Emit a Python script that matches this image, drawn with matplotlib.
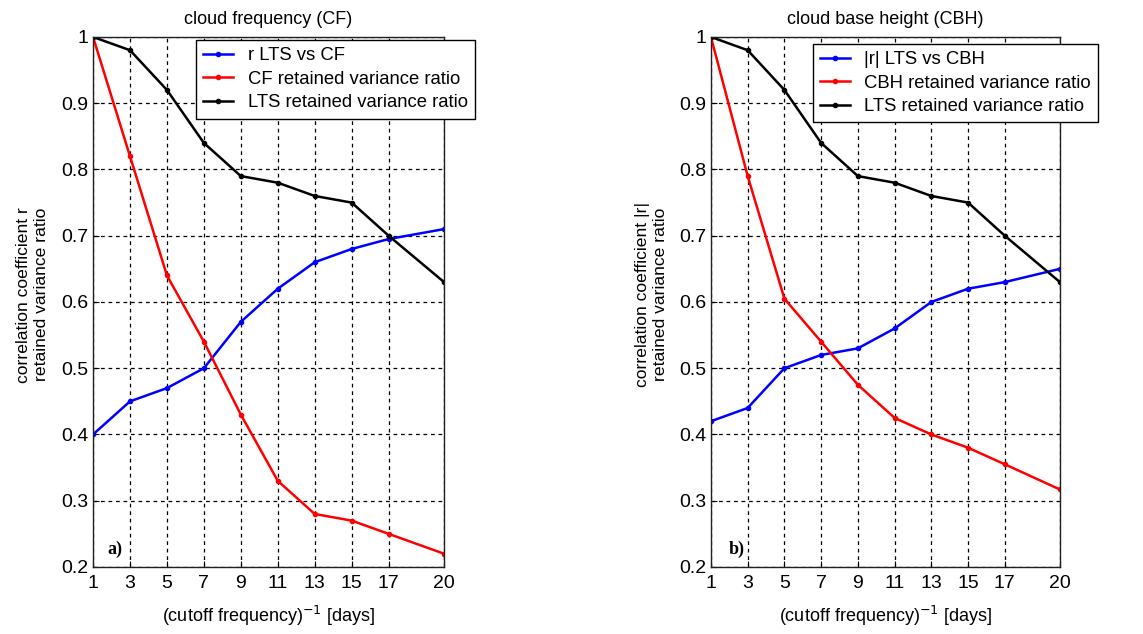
import matplotlib
matplotlib.use("Agg")
import matplotlib.pyplot as plt

plt.rcParams['font.family'] = ['Liberation Sans', 'DejaVu Sans']

days = [1, 3, 5, 7, 9, 11, 13, 15, 17, 20]
xticks = [1, 3, 5, 7, 9, 11, 13, 15, 17, 20]
yticks = [0.2, 0.3, 0.4, 0.5, 0.6, 0.7, 0.8, 0.9, 1.0]
ytick_labels = ['0.2', '0.3', '0.4', '0.5', '0.6', '0.7', '0.8', '0.9', '1']

# panel a) cloud frequency
r_cf = [0.40, 0.45, 0.47, 0.50, 0.57, 0.62, 0.66, 0.68, 0.695, 0.71]
cf_var = [1.00, 0.82, 0.64, 0.54, 0.43, 0.33, 0.28, 0.27, 0.25, 0.22]
lts_var = [1.00, 0.98, 0.92, 0.84, 0.79, 0.78, 0.76, 0.75, 0.70, 0.63]

# panel b) cloud base height
r_cbh = [0.42, 0.44, 0.50, 0.52, 0.53, 0.56, 0.60, 0.62, 0.63, 0.65]
cbh_var = [1.00, 0.79, 0.605, 0.54, 0.475, 0.425, 0.40, 0.38, 0.355, 0.317]

panels = [
    dict(title='cloud frequency (CF)', r=r_cf, var=cf_var,
         labels=['r LTS vs CF', 'CF retained variance ratio', 'LTS retained variance ratio'],
         ylab='correlation coefficient r\nretained variance ratio', tag='a)'),
    dict(title='cloud base height (CBH)', r=r_cbh, var=cbh_var,
         labels=['|r| LTS vs CBH', 'CBH retained variance ratio', 'LTS retained variance ratio'],
         ylab='correlation coefficient |r|\nretained variance ratio', tag='b)'),
]

fig = plt.figure(figsize=(11.43, 6.34), dpi=100)
ax_pos = [[0.0814, 0.1057, 0.3071, 0.836], [0.622, 0.1057, 0.3053, 0.836]]
leg_pos = [(0.1715, 0.937), (0.711, 0.931)]
ylab_x = [0.028, 0.570]
tag_x = [1.75, 1.95]

for i, p in enumerate(panels):
    ax = fig.add_axes(ax_pos[i])
    ax.plot(days, p['r'], '.-', color='#0000ff', lw=1.8, ms=6, label=p['labels'][0])
    ax.plot(days, p['var'], '.-', color='#ff0000', lw=1.8, ms=6, label=p['labels'][1])
    ax.plot(days, lts_var, '.-', color='black', lw=1.8, ms=6, label=p['labels'][2])
    ax.set_xlim(1, 20)
    ax.set_ylim(0.2, 1.0)
    ax.set_xticks(xticks)
    ax.set_yticks(yticks)
    ax.set_yticklabels(ytick_labels)
    ax.tick_params(direction='in', length=4, labelsize=14, color='black')
    ax.tick_params(axis='x', pad=6)
    ax.grid(True, color='black', linestyle=(0, (3, 3)), lw=0.9)
    for s in ax.spines.values():
        s.set_linewidth(1.0)
        s.set_color('#202020')
    ax.set_title(p['title'], fontsize=13, pad=9)
    ax.set_xlabel(r'(cutoff frequency)$^{-1}$ [days]', fontsize=13, labelpad=8)
    ax.text(tag_x[i], 0.226, p['tag'], fontsize=13, fontweight='bold', va='center',
            family=['Liberation Serif', 'DejaVu Serif'])
    leg = ax.legend(loc='upper left', bbox_to_anchor=leg_pos[i], bbox_transform=fig.transFigure,
                    fontsize=13.3, fancybox=False, framealpha=1, edgecolor='black',
                    handlelength=1.6, labelspacing=0.35, borderpad=0.4, borderaxespad=0)
    leg.get_frame().set_linewidth(1.0)
    fig.text(ylab_x[i], 0.535, p['ylab'], rotation=90, ha='center', va='center',
             fontsize=12.6, linespacing=1.25)

fig.savefig('out.png', dpi=100)
